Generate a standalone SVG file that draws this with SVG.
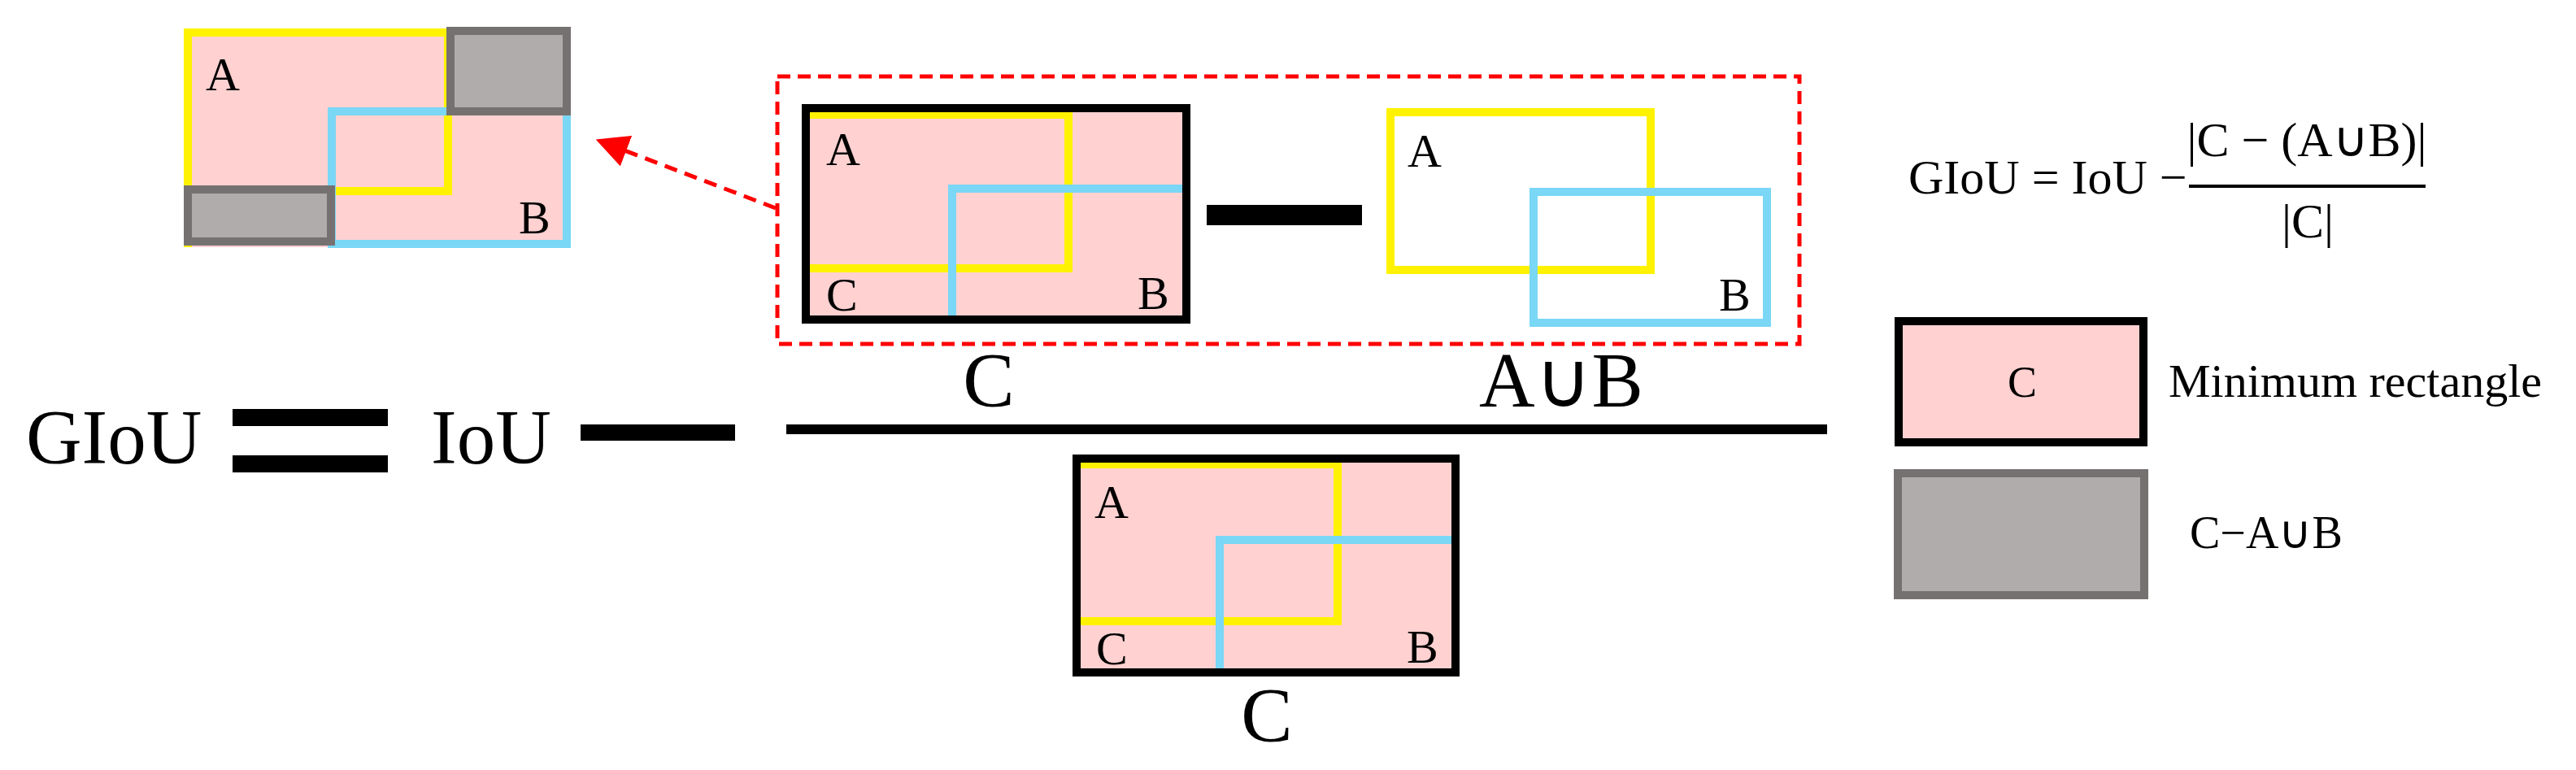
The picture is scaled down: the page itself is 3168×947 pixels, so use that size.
<svg xmlns="http://www.w3.org/2000/svg" width="3168" height="947" viewBox="0 0 3168 947">
<defs>
<style>
text{font-family:"Liberation Serif","Times New Roman",serif;fill:#000}
.y{fill:none;stroke:#fff200;stroke-width:10}
.b{fill:none;stroke:#7ad7f5;stroke-width:10}
.c{fill:#ffd1d1;stroke:#000;stroke-width:10}
.g{fill:#b0acab;stroke:#767171;stroke-width:10}
.bar{fill:#000}
.s{font-size:58px}
.L{font-size:95px}
</style>
<marker id="ah" markerWidth="8" markerHeight="8" refX="6" refY="4" orient="auto" markerUnits="strokeWidth">
<path d="M0,0 L8,4 L0,8 z" fill="#ff0000"/>
</marker>
</defs>
<g id="icon">
<rect x="226" y="36" width="476" height="268" fill="#ffd1d1"/>
<path class="y" d="M231,304 V40 H551 V235 H412"/>
<rect class="b" x="408" y="137" width="289" height="163"/>
<rect class="g" x="554" y="38" width="143" height="99"/>
<rect class="g" x="231" y="233" width="176" height="64"/>
<text class="s" x="253" y="111">A</text>
<text class="s" x="638" y="287">B</text>
</g>
<g id="connectors">
<line x1="954" y1="256" x2="742" y2="175" stroke="#ff0000" stroke-width="5" stroke-dasharray="16 10" marker-end="url(#ah)"/>
</g>
<g id="group-box">
<rect x="956" y="94" width="1257" height="329" fill="none" stroke="#ff0000" stroke-width="5" stroke-dasharray="16 9"/>
</g>
<g id="C-top">
<rect class="c" x="991" y="133" width="468" height="260"/>
<path class="y" d="M996,141 H1314 V330 H996"/>
<path class="b" d="M1171,388 V232 H1454"/>
<rect x="991" y="133" width="468" height="260" fill="none" stroke="#000" stroke-width="10"/>
<text class="s" x="1016" y="203">A</text>
<text class="s" x="1016" y="382">C</text>
<text class="s" x="1399" y="380">B</text>
<text class="L" x="1216" y="500" text-anchor="middle">C</text>
</g>
<g id="minus-mid"><rect class="bar" x="1484" y="252" width="191" height="25"/></g>
<g id="AuB">
<rect class="y" x="1710" y="138" width="320" height="194"/>
<rect class="b" x="1886" y="236" width="287" height="161"/>
<text class="s" x="1731" y="205">A</text>
<text class="s" x="2114" y="382">B</text>
<text class="L" x="1920" y="500" text-anchor="middle">A∪B</text>
</g>
<g id="equation">
<text class="L" x="32" y="570">GIoU</text>
<rect class="bar" x="286" y="503" width="191" height="21"/>
<rect class="bar" x="286" y="560" width="191" height="21"/>
<text class="L" x="530" y="570">IoU</text>
<rect class="bar" x="714" y="522" width="190" height="20"/>
<rect class="bar" x="967" y="522" width="1280" height="12"/>
</g>
<g id="C-bottom">
<rect class="c" x="1324" y="564" width="466" height="263"/>
<path class="y" d="M1329,571 H1645 V764 H1329"/>
<path class="b" d="M1500,822 V664 H1785"/>
<rect x="1324" y="564" width="466" height="263" fill="none" stroke="#000" stroke-width="10"/>
<text class="s" x="1346" y="637">A</text>
<text class="s" x="1348" y="817">C</text>
<text class="s" x="1730" y="815">B</text>
<text class="L" x="1558" y="912" text-anchor="middle">C</text>
</g>
<g id="formula">
<text x="2347" y="238" font-size="60">GIoU = IoU −</text>
<text x="2837" y="192" font-size="60" text-anchor="middle">|C − (A∪B)|</text>
<rect x="2692" y="227" width="291" height="4" fill="#000"/>
<text x="2838" y="292" font-size="60" text-anchor="middle">|C|</text>
</g>
<g id="legend-C">
<rect class="c" x="2335" y="395" width="301" height="149"/>
<text x="2487" y="488" font-size="54" text-anchor="middle">C</text>
<text x="2667" y="488" font-size="58">Minimum rectangle</text>
</g>
<g id="legend-gray">
<rect class="g" x="2334" y="582" width="303" height="150"/>
<text x="2693" y="674" font-size="56">C−A∪B</text>
</g>
</svg>
